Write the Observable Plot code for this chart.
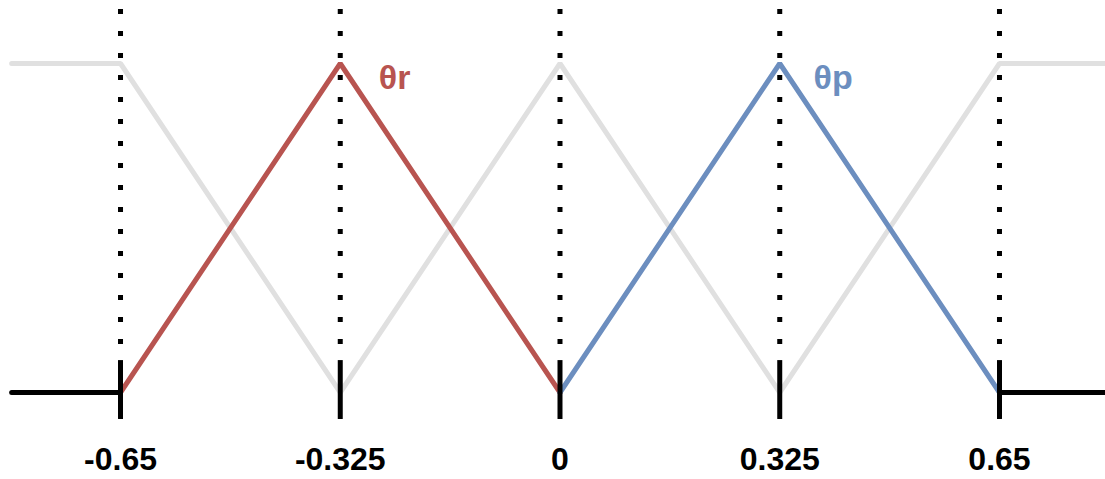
<!DOCTYPE html>
<html>
<head>
<meta charset="utf-8">
<script src="https://cdn.jsdelivr.net/npm/d3@7"></script>
<script src="https://cdn.jsdelivr.net/npm/@observablehq/plot@0.6"></script>
<style>
  html, body { margin: 0; padding: 0; background: #ffffff; }
  #chart svg { display: block; }
</style>
</head>
<body>
<div id="chart"></div>
<script>
// Membership breakpoints
const tickValues = [-0.65, -0.325, 0, 0.325, 0.65];
const tickLabels = ["-0.65", "-0.325", "0", "0.325", "0.65"];

// Grey background membership functions
const greyX = [-0.811, -0.65, -0.325, 0, 0.325, 0.65, 0.81];
const greyY = [1, 1, 0, 1, 0, 1, 1];

// θr (red) triangle
const redX = [-0.65, -0.325, 0];
const redY = [0, 1, 0];

// θp (blue) triangle
const blueX = [0, 0.325, 0.65];
const blueY = [0, 1, 0];

// Black base segments
const baseLeftX = [-0.811, -0.65];
const baseRightX = [0.65, 0.81];

// Labels
const seriesLabels = [
  {name: "θr", x: -0.268, color: "#b85450"},
  {name: "θp", x: 0.375, color: "#6c8ebf"}
];

const toPts = (xs, ys) => xs.map((x, i) => ({x, y: ys[i]}));

const chart = Plot.plot({
  width: 1105,
  height: 479,
  marginTop: 63,
  marginBottom: 87,
  marginLeft: 0,
  marginRight: 0,
  x: {domain: [-0.8275, 0.8068], axis: null},
  y: {domain: [0, 1], axis: null},
  style: {background: "#ffffff", overflow: "visible"},
  marks: [
    Plot.line(toPts(greyX, greyY), {x: "x", y: "y", stroke: "#e0e0e0", strokeWidth: 5, strokeLinejoin: "miter"}),
    Plot.line(toPts(redX, redY), {x: "x", y: "y", stroke: "#b85450", strokeWidth: 5, strokeLinejoin: "miter"}),
    Plot.line(toPts(blueX, blueY), {x: "x", y: "y", stroke: "#6c8ebf", strokeWidth: 5, strokeLinejoin: "miter"}),
    Plot.ruleX(tickValues, {x: d => d, y1: 1.164, y2: 0.146, stroke: "#000", strokeWidth: 5, strokeDasharray: "5,17", strokeLinecap: "butt"}),
    Plot.line(baseLeftX.map(x => ({x, y: 0})), {x: "x", y: "y", stroke: "#000", strokeWidth: 5}),
    Plot.line(baseRightX.map(x => ({x, y: 0})), {x: "x", y: "y", stroke: "#000", strokeWidth: 5}),
    Plot.ruleX(tickValues, {x: d => d, y1: 0.097, y2: -0.082, stroke: "#000", strokeWidth: 5}),
    Plot.text(tickValues, {x: d => d, y: -0.205, text: (d, i) => tickLabels[i], fontSize: 32, fontWeight: "bold", fill: "#000", fontFamily: "Liberation Sans, Arial, sans-serif", lineAnchor: "middle"}),
    Plot.text(seriesLabels, {x: "x", y: 0.955, text: "name", fill: "color", fontSize: 34, fontWeight: "bold", textAnchor: "start", fontFamily: "Liberation Sans, Arial, sans-serif", lineAnchor: "middle"})
  ]
});
document.getElementById("chart").appendChild(chart);
</script>
</body>
</html>
